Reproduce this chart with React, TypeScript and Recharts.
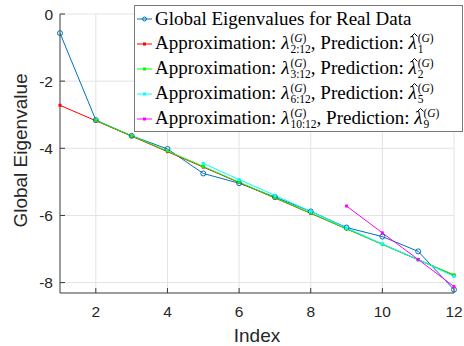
import React from "react";
import { LineChart, Line, XAxis, YAxis, CartesianGrid, Legend, Label } from "recharts";

const indices = [1, 2, 3, 4, 5, 6, 7, 8, 9, 10, 11, 12];
const globalEig = [-0.57, -3.16, -3.63, -4.02, -4.75, -5.04, -5.45, -5.88, -6.36, -6.63, -7.07, -8.21];
const approx2 = [-2.72, -3.18, -3.64, -4.1, -4.56, -5.02, -5.48, -5.94, -6.4, -6.86, -7.32, -7.78];
const approx3 = [null, -3.17, -3.63, -4.08, -4.54, -5.01, -5.47, -5.93, -6.4, -6.86, -7.32, -7.77];
const approx6 = [null, null, null, null, -4.45, -4.93, -5.4, -5.88, -6.37, -6.85, -7.31, -7.82];
const approx10 = [null, null, null, null, null, null, null, null, -5.72, -6.52, -7.31, -8.12];

const xTicks = [2, 4, 6, 8, 10, 12];
const yTicks = [-8, -6, -4, -2, 0];

const data = indices.map((idx, i) => ({
  idx,
  global: globalEig[i],
  a2: approx2[i],
  a3: approx3[i],
  a6: approx6[i],
  a10: approx10[i],
}));

const AXIS = "#3a3a3a";
const BLUE = "#0072BD";
const SANS = "Liberation Sans, Arimo, Arial, Helvetica, sans-serif";
const SERIF = "Liberation Serif, Tinos, Times New Roman, Times, DejaVu Serif, serif";

const series = [
  { key: "a2", color: "#FF0000", sub: "2:12", pred: "1" },
  { key: "a3", color: "#00FF00", sub: "3:12", pred: "2" },
  { key: "a6", color: "#00FFFF", sub: "6:12", pred: "5" },
  { key: "a10", color: "#FF00FF", sub: "10:12", pred: "9" },
];

function squareDot(color: string) {
  return (p: any) => {
    if (p.cy == null || p.value == null) return <g key={p.key ?? p.index} />;
    return <rect key={p.key ?? p.index} x={p.cx - 1.5} y={p.cy - 1.5} width={3} height={3} fill={color} />;
  };
}

function circleDot(p: any) {
  if (p.cy == null) return <g key={p.key ?? p.index} />;
  return <circle key={p.key ?? p.index} cx={p.cx} cy={p.cy} r={2.5} fill="none" stroke={BLUE} strokeWidth={1} />;
}

// lambda with stacked (G) superscript and index subscript; hat drawn as a tiny svg
function Lam({ hat, sub }: { hat?: boolean; sub: string }) {
  return (
    <>
      <span style={{ fontStyle: "italic", position: "relative", display: "inline-block" }}>
        λ
        {hat && (
          <svg width={7} height={4} style={{ position: "absolute", left: 3, top: 1 }}>
            <polyline points="0.5,3.5 3.5,0.5 6.5,3.5" fill="none" stroke="#000" strokeWidth={1} />
          </svg>
        )}
      </span>
      <span
        style={{
          display: "inline-flex",
          flexDirection: "column",
          fontSize: 11.5,
          lineHeight: "11px",
          verticalAlign: "middle",
          marginLeft: 1,
        }}
      >
        <span>
          (<i>G</i>)
        </span>
        <span>{sub}</span>
      </span>
    </>
  );
}

function Sample({ color, circle }: { color: string; circle?: boolean }) {
  return (
    <svg width={18} height={10} style={{ flex: "none" }}>
      <line x1={2} y1={5} x2={17} y2={5} stroke={color} strokeWidth={1} />
      {circle ? (
        <circle cx={9.5} cy={5} r={2} fill="none" stroke={color} strokeWidth={1} />
      ) : (
        <rect x={8} y={3.5} width={3} height={3} fill={color} />
      )}
    </svg>
  );
}

function LegendBox() {
  const row: React.CSSProperties = { display: "flex", alignItems: "center", height: 25, whiteSpace: "nowrap" };
  return (
    <div
      style={{
        border: "1px solid #7a7a7a",
        background: "#fff",
        fontFamily: SERIF,
        fontSize: 19,
        color: "#000",
        width: 327,
        height: 125,
        overflow: "hidden",
      }}
    >
      <div style={row}>
        <Sample color={BLUE} circle />
        <span style={{ marginLeft: 2 }}>Global Eigenvalues for Real Data</span>
      </div>
      {series.map((s) => (
        <div key={s.key} style={row}>
          <Sample color={s.color} />
          <span style={{ marginLeft: 2 }}>
            Approximation: <Lam sub={s.sub} />, Prediction: <Lam hat sub={s.pred} />
          </span>
        </div>
      ))}
    </div>
  );
}

export default function App() {
  const tickStyle = { fontSize: 15.5, fill: "#262626", fontFamily: SANS };
  return (
    <div style={{ position: "absolute", left: 0, top: 0, width: 464, height: 346, background: "#fff" }}>
      <LineChart width={464} height={346} data={data} margin={{ top: 14, right: 10, bottom: 0, left: 0 }}>
        <CartesianGrid stroke="#e3e3e3" strokeWidth={1} horizontalValues={yTicks} verticalValues={xTicks} />
        <XAxis
          dataKey="idx"
          type="number"
          domain={[1, 12]}
          ticks={xTicks}
          height={53}
          tickSize={-5}
          tickMargin={18}
          tick={tickStyle}
          stroke={AXIS}
          interval={0}
        >
          <Label
            value="Index"
            position="insideBottom"
            offset={4}
            style={{ fontSize: 19, fill: "#262626", fontFamily: SANS }}
          />
        </XAxis>
        <XAxis
          xAxisId="top"
          orientation="top"
          dataKey="idx"
          type="number"
          domain={[1, 12]}
          ticks={xTicks}
          height={0}
          tickSize={-5}
          tick={false}
          stroke={AXIS}
        />
        <YAxis
          type="number"
          domain={[-8.31, 0]}
          ticks={yTicks}
          width={60}
          tickSize={-5}
          tickMargin={12}
          tick={tickStyle}
          stroke={AXIS}
          allowDataOverflow
          interval={0}
        >
          <Label
            value="Global Eigenvalue"
            angle={-90}
            position="insideLeft"
            offset={20}
            dy={-3}
            style={{ textAnchor: "middle", fontSize: 19, fill: "#262626", fontFamily: SANS }}
          />
        </YAxis>
        <YAxis
          yAxisId="right"
          orientation="right"
          type="number"
          domain={[-8.31, 0]}
          ticks={yTicks}
          width={0}
          tickSize={-5}
          tick={false}
          stroke={AXIS}
          allowDataOverflow
        />
        <Legend
          layout="vertical"
          align="center"
          verticalAlign="middle"
          content={() => <LegendBox />}
          wrapperStyle={{ left: 134, top: 5, width: 329, height: 127 }}
        />
        <Line
          dataKey="global"
          stroke={BLUE}
          strokeWidth={1}
          dot={circleDot}
          activeDot={false}
          isAnimationActive={false}
        />
        {series.map((s) => (
          <Line
            key={s.key}
            dataKey={s.key}
            stroke={s.color}
            strokeWidth={1}
            dot={squareDot(s.color)}
            activeDot={false}
            connectNulls={false}
            isAnimationActive={false}
          />
        ))}
      </LineChart>
    </div>
  );
}
